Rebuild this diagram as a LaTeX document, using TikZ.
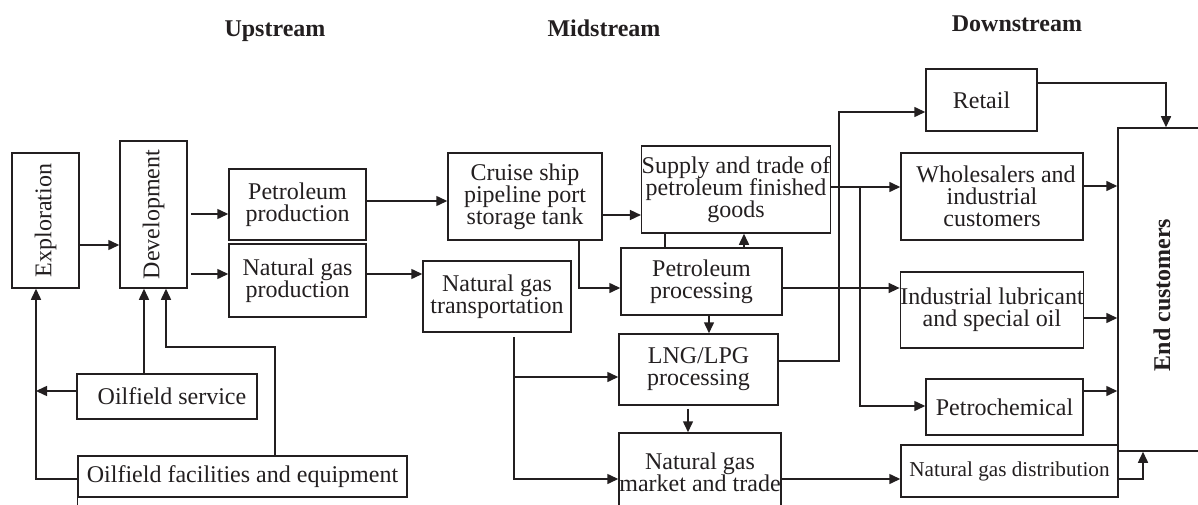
\documentclass[tikz,border=0pt]{standalone}
\usepackage{fontspec}
\setmainfont{Liberation Serif}
\usepackage{graphicx}
\usetikzlibrary{arrows.meta,calc}
\definecolor{ink}{HTML}{231F20}
\begin{document}
\begin{tikzpicture}[x=1pt,y=-1pt,
  every node/.style={font={\fontsize{24}{22}\selectfont\lineskiplimit=-100pt}, inner sep=0pt, align=center, text=ink},
  box/.style={draw=ink, line width=1.5pt},
  arr/.style={draw=ink, line width=1.5pt, -{Triangle[length=11pt,width=10pt]}},
  ln/.style={draw=ink, line width=1.5pt},
  head/.style={font={\fontsize{24}{22}\selectfont\bfseries}, anchor=base}]
\useasboundingbox (0,0) rectangle (1198,505);
\fill[white] (0,0) rectangle (1198,505);

% headings
\node[head] (hup) at (275,37) {Upstream};
\node[head] (hmid) at (604,37) {Midstream};
\node[head] (hdown) at (1017,32) {Downstream};

% upstream
\node[box, minimum width=67pt, minimum height=135pt] (expl) at (45.5,220.5) {\rotatebox{90}{Exploration}};
\node[box, minimum width=67pt, minimum height=147pt] (dev) at (153.5,214.5) {\rotatebox{90}{Development}};
\node[box, minimum width=137pt, minimum height=71pt] (pprod) at (297.5,204.5) {Petroleum\\production};
\node[box, minimum width=137pt, minimum height=73pt] (ngprod) at (297.5,280.5) {Natural gas\\production};
\node[box, minimum width=180pt, minimum height=45pt] (os) at (167,396.5) {\hspace*{10pt}Oilfield service};
\node[box, minimum width=329pt, minimum height=41pt] (fac) at (242.5,476.5) {Oilfield facilities and equipment};

% midstream
\node[box, minimum width=154pt, minimum height=87pt] (cruise) at (525,196.5) {Cruise ship\\pipeline port\\storage tank};
\node[box, minimum width=148pt, minimum height=71pt] (ngtrans) at (497,296.5) {Natural gas\\transportation};
\node[box, minimum width=186pt, minimum height=87pt] (supply) at (736,189.5) {Supply and trade of\\petroleum finished\\goods};
\node[box, minimum width=161pt, minimum height=67pt] (pproc) at (701.5,281.5) {Petroleum\\processing};
\node[box, minimum width=159pt, minimum height=71pt] (lng) at (698.5,369.5) {LNG/LPG\\processing};
\node[box, minimum width=162pt, minimum height=78pt] (ngm) at (700,472) {Natural gas\\market and trade};

% downstream
\node[box, minimum width=111pt, minimum height=62pt] (retail) at (981.5,100) {Retail};
\node[box, minimum width=182pt, minimum height=87pt] (wh) at (992,196.5) {\hspace*{8pt}Wholesalers and\\industrial\\customers};
\node[box, minimum width=182pt, minimum height=76pt] (lub) at (992,310) {Industrial lubricant\\and special oil};
\node[box, minimum width=157pt, minimum height=56pt] (pchem) at (1004.5,407) {Petrochemical};
\node[box, minimum width=217pt, minimum height=52pt, font={\fontsize{21.2}{22}\selectfont}] (ngd) at (1009.5,471) {Natural gas distribution};
\node[box, minimum width=88pt, minimum height=323pt] (endc) at (1162,289.5) {};
\node[rotate=90, font={\fontsize{24}{22}\selectfont\bfseries}] (endl) at (1162,295) {End customers};

% upstream connectors
\draw[arr] (expl.east |- 0,245) -- (dev.west |- 0,245);
\draw[arr, shorten <=3pt] (dev.east |- 0,214) -- (pprod.west |- 0,214);
\draw[arr, shorten <=3pt] (dev.east |- 0,274) -- (ngprod.west |- 0,274);
\draw[arr] (os.north -| 144,0) -- (dev.south -| 144,0);
\draw[arr] (fac.north -| 275,0) |- (166,347) -- (dev.south -| 166,0);
\draw[arr] (fac.west |- 0,479) -| (expl.south -| 36,0);
\draw[arr] (os.west |- 0,391) -- (36,391);
\draw[ln] (fac.south west) -- ++(0,9);

% midstream connectors
\draw[arr] (pprod.east |- 0,201) -- (cruise.west |- 0,201);
\draw[arr] (ngprod.east |- 0,274) -- (ngtrans.west |- 0,274);
\draw[arr] (cruise.east |- 0,215) -- (supply.west |- 0,215);
\draw[arr] (cruise.south -| 579,0) |- (pproc.west |- 0,288);
\draw[arr] (pproc.north -| 744,0) -- (supply.south -| 744,0);
\draw[ln] (pproc.north -| 665,0) -- (supply.south -| 665,0);
\draw[arr] (pproc.south -| 709,0) -- (lng.north -| 709,0);
\draw[arr, shorten <=3pt] (lng.south -| 688,0) -- (ngm.north -| 688,0);
\draw[arr, shorten <=4pt] (ngtrans.south -| 514,0) |- (ngm.west |- 0,479);
\coordinate (ntb) at (514,377);
\draw[arr] (ntb) -- (lng.west |- ntb);

% downstream connectors
\draw[arr] (ngm.east |- 0,479) -- (ngd.west |- 0,479);
\draw[arr] (lng.east |- 0,361) -- (839,361) |- (retail.west |- 0,112);
\draw[arr] (supply.east |- 0,187) -- (wh.west |- 0,187);
\coordinate (sb) at (860,187);
\draw[arr] (sb) |- (pchem.west |- 0,406);
\draw[arr] (pproc.east |- 0,288) -- (lub.west |- 0,288);
\draw[arr] (retail.east |- 0,83) -| (endc.north -| 1166,0);
\draw[arr] (wh.east |- 0,186) -- (endc.west |- 0,186);
\draw[arr] (lub.east |- 0,318) -- (endc.west |- 0,318);
\draw[arr] (pchem.east |- 0,391) -- (endc.west |- 0,391);
\draw[arr] (ngd.east |- 0,479) -| (endc.south -| 1143,0);
\end{tikzpicture}
\end{document}
